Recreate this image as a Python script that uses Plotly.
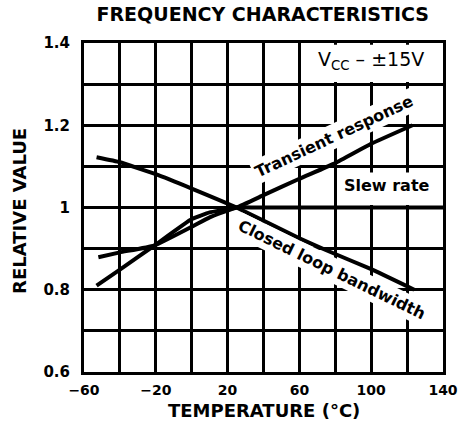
import plotly.graph_objects as go

# ---- data ----
transient_t = [-53, -40, -21, 0, 10, 25, 40, 60, 80, 100, 123]
transient_v = [0.81, 0.849, 0.907, 0.972, 0.988, 1.0, 1.03, 1.07, 1.108, 1.155, 1.2]

slew_t = [-52, -40, -21, 0, 10, 25, 35, 50, 140]
slew_v = [0.879, 0.891, 0.907, 0.953, 0.976, 1.0, 1.0, 1.0, 1.0]

bandwidth_t = [-53, -40, -20, 0, 25, 60, 75, 100, 124]
bandwidth_v = [1.122, 1.11, 1.081, 1.046, 1.0, 0.925, 0.896, 0.85, 0.80]

x_tickvals = [-60, -20, 20, 60, 100, 140]
x_ticktext = ["\u221260", "\u221220", "20", "60", "100", "140"]
y_tickvals = [0.6, 0.8, 1.0, 1.2, 1.4]
y_ticktext = ["0.6", "0.8", "1", "1.2", "1.4"]

FONT = "DejaVu Sans"
LW = 4

fig = go.Figure()
for t, v in [(transient_t, transient_v), (slew_t, slew_v), (bandwidth_t, bandwidth_v)]:
    fig.add_trace(go.Scatter(x=t, y=v, mode="lines",
                             line=dict(color="black", width=LW, shape="spline", smoothing=0.3),
                             showlegend=False, hoverinfo="skip"))

# white masks over the grid (label boxes)
fig.add_shape(type="rect", x0=61, x1=139, y0=1.305, y1=1.396, fillcolor="white",
              line=dict(width=0), layer="between")
fig.add_shape(type="rect", x0=81, x1=139, y0=1.006, y1=1.085, fillcolor="white",
              line=dict(width=0), layer="between")

ann_font = dict(family=FONT, size=16, color="black")
fig.add_annotation(x=79, y=1.172, text="<b>Transient response</b>", textangle=-25,
                   showarrow=False, font=ann_font, bgcolor="white", borderpad=2)
fig.add_annotation(x=78, y=0.85, text="<b>Closed loop bandwidth</b>", textangle=26,
                   showarrow=False, font=ann_font, bgcolor="white", borderpad=2)
fig.add_annotation(x=109, y=1.053, text="<b>Slew rate</b>",
                   showarrow=False, font=dict(family=FONT, size=16, color="black"))
fig.add_annotation(x=100, y=1.358, text="V<sub>CC</sub> \u2013 \u00b115V",
                   showarrow=False, font=dict(family=FONT, size=19, color="black"))

# axis titles placed explicitly
fig.add_annotation(xref="paper", yref="paper", x=0.5, y=-0.118, xanchor="center", yanchor="middle",
                   text="<b>TEMPERATURE (\u00b0C)</b>", showarrow=False,
                   font=dict(family=FONT, size=18, color="black"))
fig.add_annotation(xref="paper", yref="paper", x=-0.178, y=0.49, xanchor="center", yanchor="middle",
                   text="<b>RELATIVE VALUE</b>", textangle=-90, showarrow=False,
                   font=dict(family=FONT, size=18, color="black"))

fig.update_layout(
    width=461, height=423,
    margin=dict(l=84, r=18, t=43, b=51, autoexpand=False),
    paper_bgcolor="white", plot_bgcolor="white",
    font=dict(family=FONT, color="black"),
    title=dict(text="<b>FREQUENCY CHARACTERISTICS</b>", x=0.57, xanchor="center",
               y=0.965, yanchor="middle", font=dict(family=FONT, size=19, color="black")),
    showlegend=False,
)
fig.update_xaxes(range=[-60, 140], tickvals=x_tickvals, ticktext=x_ticktext,
                 showgrid=True, gridcolor="black", gridwidth=2.5,
                 minor=dict(dtick=20, tick0=-60, showgrid=True, gridcolor="black", gridwidth=2.5),
                 showline=True, linecolor="black", linewidth=3, mirror=True,
                 ticks="", ticklabelstandoff=3, zeroline=False, automargin=False,
                 tickfont=dict(family=FONT, size=14, color="black", weight="bold"))
fig.update_yaxes(range=[0.6, 1.4], tickvals=y_tickvals, ticktext=y_ticktext,
                 showgrid=True, gridcolor="black", gridwidth=2.5,
                 minor=dict(dtick=0.1, tick0=0.6, showgrid=True, gridcolor="black", gridwidth=2.5),
                 showline=True, linecolor="black", linewidth=3, mirror=True,
                 ticks="", ticklabelstandoff=8, zeroline=False, automargin=False,
                 tickfont=dict(family=FONT, size=15, color="black", weight="bold"))

fig.write_html("out.html", config={"displayModeBar": False},
               post_script="document.body.style.margin='0px';")
